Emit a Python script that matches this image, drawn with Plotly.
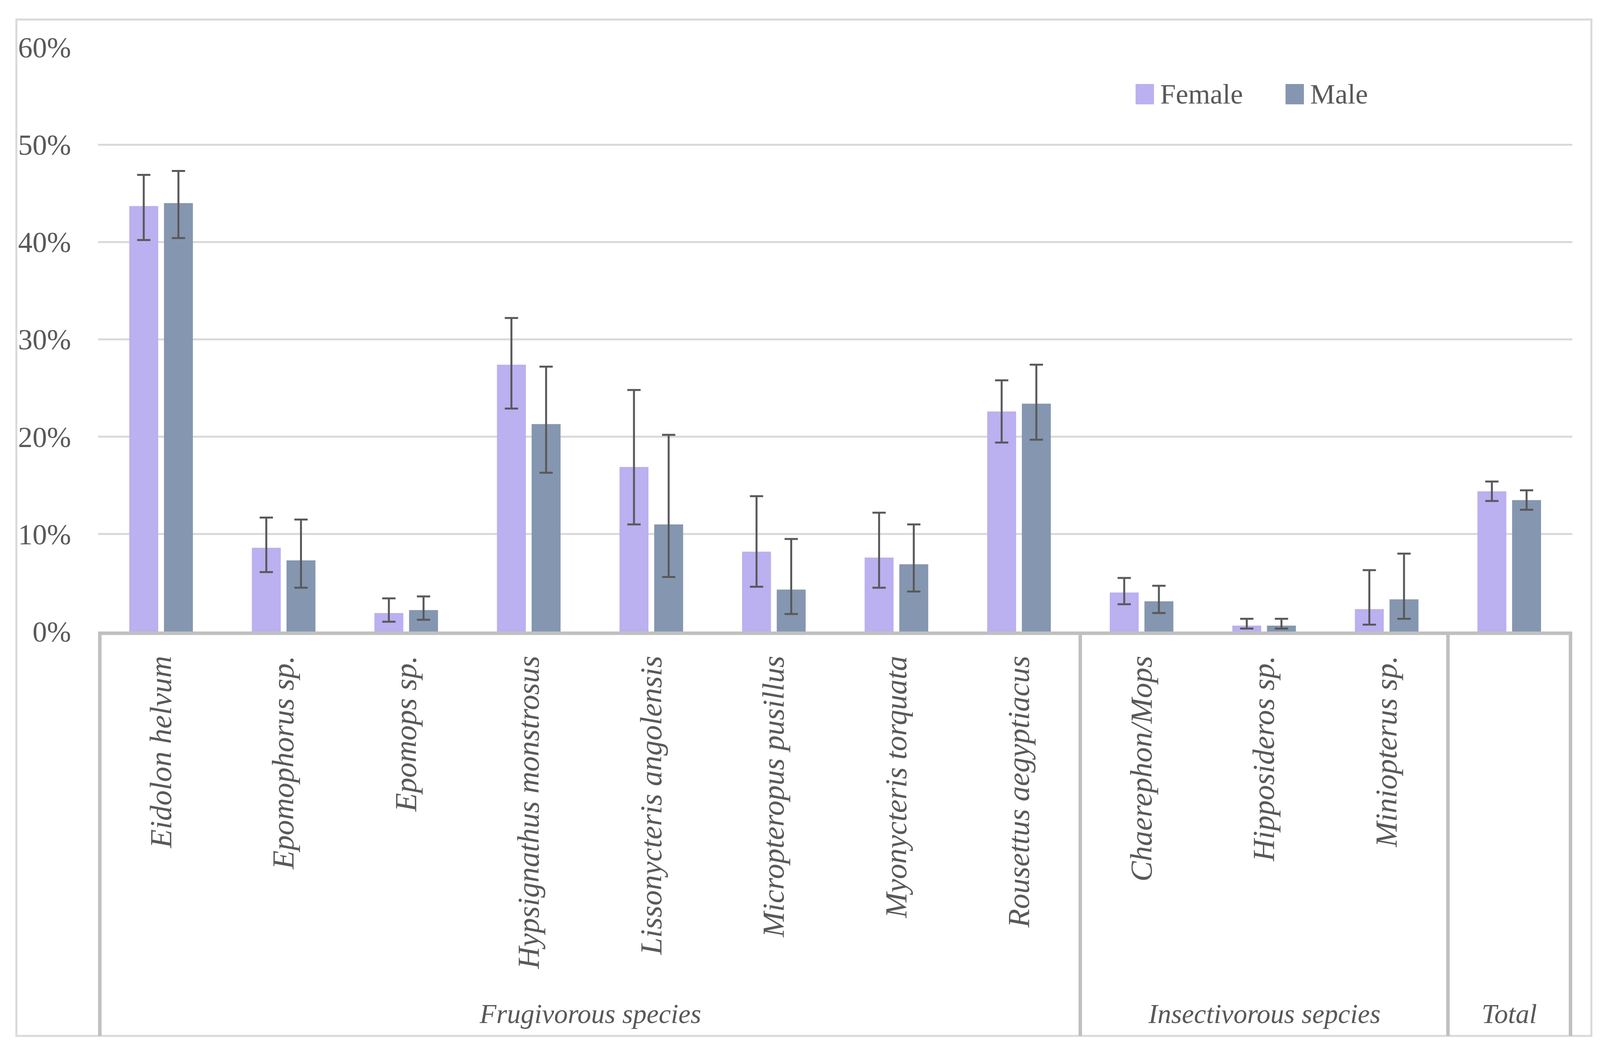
import plotly.graph_objects as go

# ---------------- data (percent) ----------------
species = ["Eidolon helvum", "Epomophorus sp.", "Epomops sp.", "Hypsignathus monstrosus",
           "Lissonycteris angolensis", "Micropteropus pusillus", "Myonycteris torquata",
           "Rousettus aegyptiacus", "Chaerephon/Mops", "Hipposideros sp.", "Miniopterus sp.", "Total"]
# tick labels shown under each bar pair (the Total column carries only its group label)
tick_labels = ["Eidolon helvum", "Epomophorus sp.", "Epomops sp.", "Hypsignathus monstrosus",
               "Lissonycteris angolensis", "Micropteropus pusillus", "Myonycteris torquata",
               "Rousettus aegyptiacus", "Chaerephon/Mops", "Hipposideros sp.", "Miniopterus sp.", ""]
groups = ["Frugivorous species", "Insectivorous sepcies", "Total"]
group_sizes = [8, 3, 1]

female = [43.7, 8.6, 1.9, 27.4, 16.9, 8.2, 7.6, 22.6, 4.0, 0.6, 2.3, 14.4]
female_upper = [46.9, 11.7, 3.4, 32.2, 24.8, 13.9, 12.2, 25.8, 5.5, 1.3, 6.3, 15.4]
female_lower = [40.2, 6.1, 1.0, 22.9, 11.0, 4.6, 4.5, 19.4, 2.8, 0.3, 0.7, 13.4]

male = [44.0, 7.3, 2.2, 21.3, 11.0, 4.3, 6.9, 23.4, 3.1, 0.6, 3.3, 13.5]
male_upper = [47.3, 11.5, 3.6, 27.2, 20.2, 9.5, 11.0, 27.4, 4.7, 1.3, 8.0, 14.5]
male_lower = [40.4, 4.5, 1.2, 16.3, 5.6, 1.8, 4.1, 19.7, 1.9, 0.3, 1.3, 12.5]

y_ticks = [0, 10, 20, 30, 40, 50, 60]

# ---------------- style ----------------
FEMALE_COLOR = "#BBB0F0"
MALE_COLOR = "#8596B0"
ERR_COLOR = "#595959"
TEXT_COLOR = "#595959"
GRID_COLOR = "#D9D9D9"
LINE_COLOR = "#C0C0C0"
FONT = "Liberation Serif"
FS_TICK = 74
FS_CAT = 78
FS_GROUP = 70
FS_LEG = 72

# page viewport is 4096x2687 with an 8px body margin
W, H = 4080, 2671
ML, MR, MT, MB = 243, 63, 113, 1063
plot_w = W - ML - MR
plot_h = H - MT - MB


def frac(v):
    return [x / 100 for x in v]


def err_plus(v, up):
    return [(u - x) / 100 for x, u in zip(v, up)]


def err_minus(v, lo):
    return [(x - l) / 100 for x, l in zip(v, lo)]


fig = go.Figure()
for name, vals, up, lo, col in [("Female", female, female_upper, female_lower, FEMALE_COLOR),
                                ("Male", male, male_upper, male_lower, MALE_COLOR)]:
    fig.add_trace(go.Bar(
        name=name, x=species, y=frac(vals),
        marker=dict(color=col, line=dict(width=0)),
        error_y=dict(type="data", symmetric=False,
                     array=err_plus(vals, up), arrayminus=err_minus(vals, lo),
                     color=ERR_COLOR, thickness=5, width=17),
        showlegend=False,
    ))

fig.update_layout(
    width=W, height=H,
    margin=dict(l=ML, r=MR, t=MT, b=MB, autoexpand=False),
    paper_bgcolor="white", plot_bgcolor="white",
    barmode="group", bargap=0.434, bargroupgap=0.166,
    font=dict(family=FONT, size=FS_TICK, color=TEXT_COLOR),
    showlegend=False,
)

fig.update_yaxes(
    range=[0, 0.6], tickvals=[t / 100 for t in y_ticks], tickformat=".0%",
    showgrid=True, gridcolor=GRID_COLOR, gridwidth=5,
    zeroline=False, showline=False, ticks="",
    ticklabelstandoff=68, automargin=False,
    tickfont=dict(family=FONT, size=FS_TICK, color=TEXT_COLOR),
)
fig.update_xaxes(
    type="category", categoryorder="array", categoryarray=species,
    tickmode="array", tickvals=species, ticktext=tick_labels,
    tickangle=-90, ticks="", showgrid=False,
    showline=True, linecolor=LINE_COLOR, linewidth=9,
    ticklabelstandoff=22, automargin=False,
    tickfont=dict(family=FONT, size=FS_CAT, color=TEXT_COLOR, style="italic"),
)

# chart frame (paper coordinates)
frame_x0, frame_x1 = -0.0554, 1.01298
frame_y0, frame_y1 = -0.6923, 1.0475

# category group separators
edges = [-0.5]
for n in group_sizes:
    edges.append(edges[-1] + n)
for e in edges:
    fig.add_shape(type="line", xref="x", yref="paper", x0=e, x1=e, y0=0, y1=frame_y0,
                  line=dict(color=LINE_COLOR, width=9))

# group labels
start = 0
for g, n in zip(groups, group_sizes):
    center = start + (n - 1) / 2
    fig.add_annotation(text=g, xref="x", yref="paper", x=center, y=-0.6548,
                       showarrow=False, xanchor="center", yanchor="middle",
                       font=dict(family=FONT, size=FS_GROUP, color=TEXT_COLOR, style="italic"))
    start += n

# outer chart frame
fig.add_shape(type="rect", xref="paper", yref="paper",
              x0=frame_x0, x1=frame_x1, y0=frame_y0, y1=frame_y1,
              line=dict(color=GRID_COLOR, width=5), fillcolor="rgba(0,0,0,0)", layer="below")

# legend (drawn)
leg_items = [("Female", FEMALE_COLOR, 0.7038), ("Male", MALE_COLOR, 0.8055)]
sq_w = 47 / plot_w
sq_h = 52 / plot_h
leg_y = 0.9197
for name, col, lx in leg_items:
    fig.add_shape(type="rect", xref="paper", yref="paper",
                  x0=lx, x1=lx + sq_w, y0=leg_y - sq_h / 2, y1=leg_y + sq_h / 2,
                  line=dict(width=0), fillcolor=col)
    fig.add_annotation(text=name, xref="paper", yref="paper", x=lx + sq_w + 14 / plot_w, y=leg_y,
                       showarrow=False, xanchor="left", yanchor="middle",
                       font=dict(family=FONT, size=FS_LEG, color=TEXT_COLOR))

fig.write_html("out.html")
